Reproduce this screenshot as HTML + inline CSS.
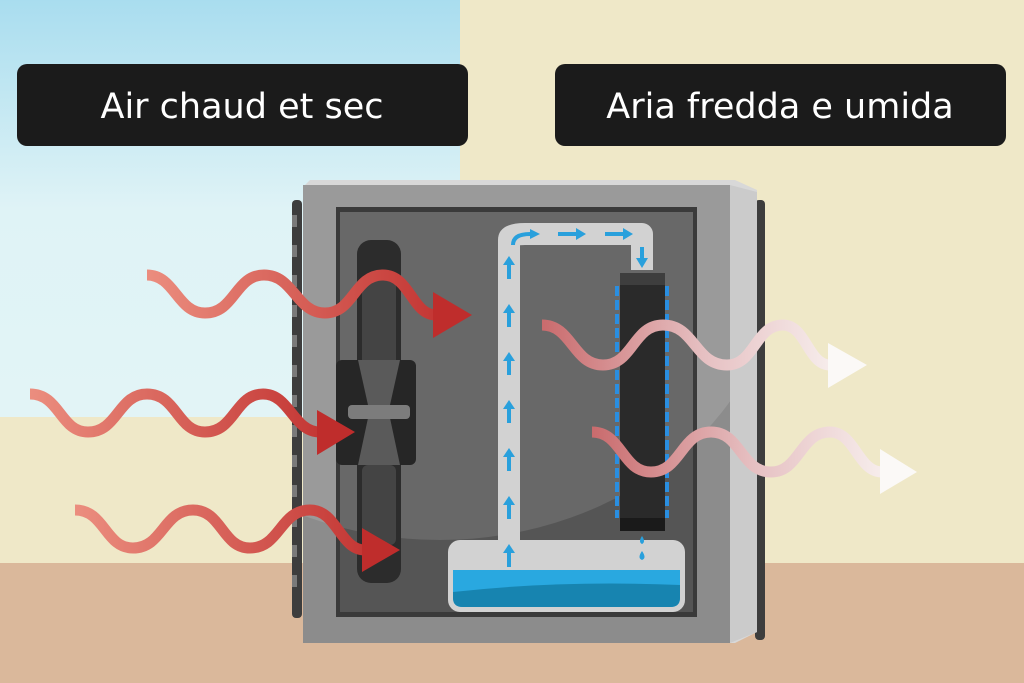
<!DOCTYPE html>
<html><head><meta charset="utf-8"><style>
html,body{margin:0;padding:0;width:1024px;height:683px;overflow:hidden}
svg{display:block}
</style></head><body>
<svg width="1024" height="683" viewBox="0 0 1024 683" xmlns="http://www.w3.org/2000/svg">
<defs>
<linearGradient id="sky" x1="0" y1="0" x2="0" y2="1"><stop offset="0" stop-color="#a9ddef"/><stop offset="0.5" stop-color="#dff3f6"/><stop offset="1" stop-color="#e2f4f6"/></linearGradient>
<linearGradient id="red1" gradientUnits="userSpaceOnUse" x1="140" y1="0" x2="470" y2="0"><stop offset="0" stop-color="#ec8f80"/><stop offset="1" stop-color="#bf2d2c"/></linearGradient>
<linearGradient id="red2" gradientUnits="userSpaceOnUse" x1="25" y1="0" x2="355" y2="0"><stop offset="0" stop-color="#ec8f80"/><stop offset="1" stop-color="#bf2d2c"/></linearGradient>
<linearGradient id="red3" gradientUnits="userSpaceOnUse" x1="70" y1="0" x2="400" y2="0"><stop offset="0" stop-color="#ec8f80"/><stop offset="1" stop-color="#bf2d2c"/></linearGradient>
<linearGradient id="pk1" gradientUnits="userSpaceOnUse" x1="540" y1="0" x2="867" y2="0"><stop offset="0" stop-color="#c96a6c"/><stop offset="0.5" stop-color="#e6c0c2"/><stop offset="1" stop-color="#fbf9f7"/></linearGradient>
<linearGradient id="pk2" gradientUnits="userSpaceOnUse" x1="590" y1="0" x2="917" y2="0"><stop offset="0" stop-color="#c96a6c"/><stop offset="0.5" stop-color="#e6c0c2"/><stop offset="1" stop-color="#fbf9f7"/></linearGradient>
<clipPath id="inner"><rect x="340" y="212" width="353" height="400"/></clipPath>
<clipPath id="body"><rect x="303" y="185" width="427" height="458"/></clipPath>
</defs>
<rect x="0" y="0" width="1024" height="683" fill="#efe8c8"/>
<rect x="0" y="0" width="460" height="417" fill="url(#sky)"/>
<rect x="0" y="563" width="1024" height="120" fill="#dab89b"/>
<rect x="17" y="64" width="451" height="82" rx="10" fill="#1b1b1b"/>
<text x="242" y="118" text-anchor="middle" font-family="DejaVu Sans, sans-serif" font-size="35" font-weight="500" fill="#fff">Air chaud et sec</text>
<rect x="555" y="64" width="451" height="82" rx="10" fill="#1b1b1b"/>
<text x="780" y="118" text-anchor="middle" font-family="DejaVu Sans, sans-serif" font-size="35" font-weight="500" fill="#fff">Aria fredda e umida</text>
<rect x="292" y="200" width="10" height="418" rx="4" fill="#3d3d3d"/>
<rect x="755" y="200" width="10" height="440" rx="4" fill="#3d3d3d"/>
<g fill="#7a7a7a">
<rect x="292" y="215" width="5" height="12"/><rect x="292" y="245" width="5" height="12"/><rect x="292" y="275" width="5" height="12"/><rect x="292" y="305" width="5" height="12"/><rect x="292" y="335" width="5" height="12"/><rect x="292" y="365" width="5" height="12"/><rect x="292" y="395" width="5" height="12"/><rect x="292" y="425" width="5" height="12"/><rect x="292" y="455" width="5" height="12"/><rect x="292" y="485" width="5" height="12"/><rect x="292" y="515" width="5" height="12"/><rect x="292" y="545" width="5" height="12"/><rect x="292" y="575" width="5" height="12"/>
</g>
<polygon points="310,180 735,180 757,190 757,632 735,643 303,643 303,187" fill="#d8d8d8"/>
<rect x="303" y="185" width="427" height="458" fill="#8c8c8c"/>
<g clip-path="url(#body)" opacity="0.12"><ellipse cx="440" cy="250" rx="340" ry="290" fill="#fff"/></g>
<polygon points="730,185 757,192 757,632 730,643" fill="#cbcbcb"/>
<rect x="336" y="207" width="361" height="410" fill="#3a3a3a"/>
<rect x="340" y="212" width="353" height="400" fill="#555555"/>
<g clip-path="url(#inner)">
<ellipse cx="440" cy="250" rx="340" ry="290" fill="#686868"/>
</g>
<rect x="357" y="240" width="44" height="343" rx="14" fill="#2c2c2c"/>
<rect x="362" y="280" width="34" height="90" rx="6" fill="#444"/>
<rect x="362" y="465" width="34" height="80" rx="6" fill="#444"/>
<rect x="336" y="360" width="80" height="105" rx="6" fill="#262626"/>
<polygon points="358,360 400,360 390,405 368,405" fill="#5a5a5a"/>
<polygon points="368,418 390,418 400,465 358,465" fill="#5a5a5a"/>
<rect x="348" y="405" width="62" height="14" rx="4" fill="#7c7c7c"/>
<path d="M509,548 V240 Q509,234 525,234 H642 Q642,234 642,270" fill="none" stroke="#d2d2d2" stroke-width="22" stroke-linejoin="round"/>
<rect x="620" y="273" width="45" height="258" fill="#2a2a2a"/>
<rect x="620" y="273" width="45" height="12" fill="#3e3e3e"/>
<rect x="620" y="518" width="45" height="13" fill="#1a1a1a"/>
<line x1="617" y1="286" x2="617" y2="518" stroke="#2a8ee0" stroke-width="4" stroke-dasharray="10,4"/>
<line x1="667" y1="286" x2="667" y2="518" stroke="#2a8ee0" stroke-width="4" stroke-dasharray="10,4"/>
<rect x="448" y="540" width="237" height="72" rx="12" fill="#d2d2d2"/>
<path d="M453,570 H680 V598 Q680,607 670,607 H463 Q453,607 453,598 Z" fill="#29a8e0"/>
<path d="M453,592 Q560,580 680,585 V598 Q680,607 670,607 H463 Q453,607 453,598 Z" fill="#1784b0"/>
<g fill="#29a0dc">
<g id="ua"><rect x="507" y="265" width="4" height="14"/><polygon points="503,265 515,265 509,256"/></g>
<use href="#ua" y="48"/><use href="#ua" y="96"/><use href="#ua" y="144"/><use href="#ua" y="192"/><use href="#ua" y="240"/><use href="#ua" y="288"/>
<path d="M513,245 Q513,234 530,234" fill="none" stroke="#29a0dc" stroke-width="4"/>
<polygon points="530,229 540,234 530,239"/>
<rect x="558" y="232" width="18" height="4"/><polygon points="576,228 586,234 576,240"/>
<rect x="605" y="232" width="18" height="4"/><polygon points="623,228 633,234 623,240"/>
<rect x="640" y="247" width="4" height="12"/><polygon points="636,258 648,258 642,268"/>
<path d="M642,536 q-4,6 0,8 q4,-2 0,-8z"/>
<path d="M642,551 q-5,7 0,9 q5,-2 0,-9z"/>
</g>
<g fill="none" stroke-width="11" stroke-linecap="butt">
<path d="M147,275 C175,275 177,313 205,313 C235,313 235,275 264,275 C294,275 296,313 325,313 C354,313 354,275 383,275 C410,275 412,315 436,315" stroke="url(#red1)"/>
<path d="M30,394 C60,394 60,432 88,432 C118,432 118,394 147,394 C177,394 177,432 205,432 C235,432 235,394 263,394 C290,394 293,432 320,432" stroke="url(#red2)"/>
<path d="M75,510 C105,510 105,548 133,548 C163,548 163,510 193,510 C222,510 222,548 250,548 C280,548 280,510 310,510 C337,510 340,550 365,550" stroke="url(#red3)"/>
<path d="M542,325 C572,325 573,365 603,365 C633,365 633,325 663,325 C695,325 695,365 727,365 C755,365 755,325 783,325 C806,325 808,365 830,365" stroke="url(#pk1)"/>
<path d="M592,432 C622,432 622,472 651,472 C681,472 681,432 711,432 C741,432 741,472 771,472 C800,472 800,432 830,432 C855,432 858,472 882,472" stroke="url(#pk2)"/>
</g>
<polygon points="433,292 472,315 433,338" fill="#bf2d2c"/>
<polygon points="317,410 355,432 317,455" fill="#bf2d2c"/>
<polygon points="362,528 400,550 362,572" fill="#bf2d2c"/>
<polygon points="828,343 867,365 828,388" fill="#fbf9f7"/>
<polygon points="880,449 917,472 880,494" fill="#fbf9f7"/>
</svg>
</body></html>
